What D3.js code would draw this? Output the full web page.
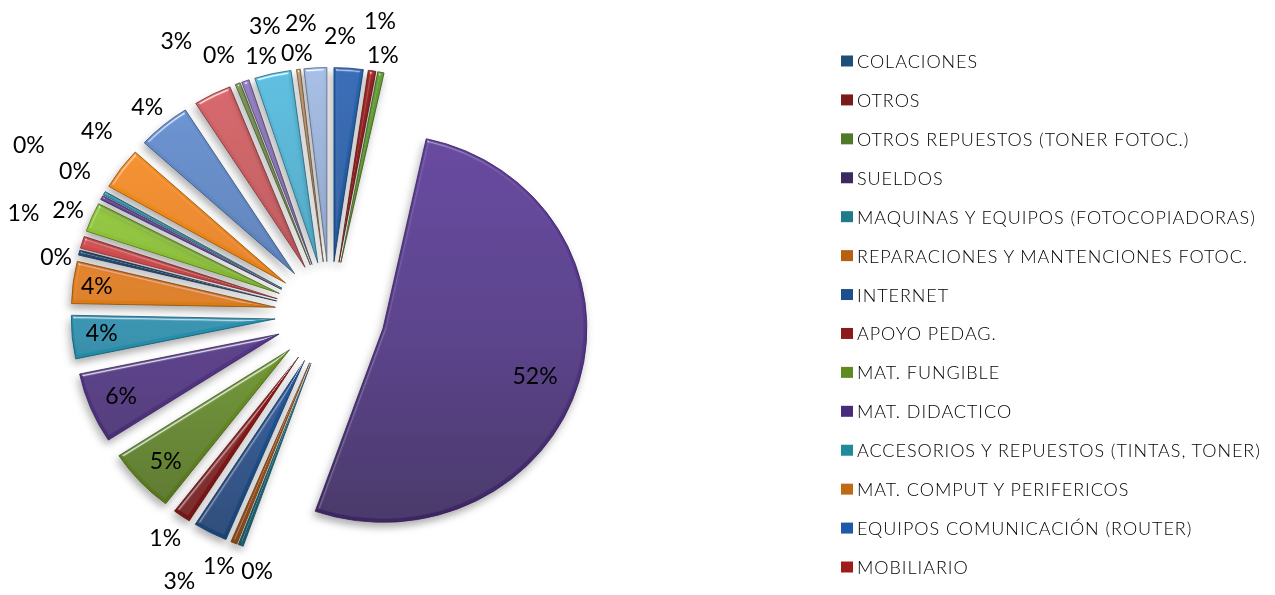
<!DOCTYPE html>
<html lang="es">
<head>
<meta charset="UTF-8">
<title>Gastos</title>
<script src="https://d3js.org/d3.v7.min.js"></script>
<style>
  html, body { margin: 0; padding: 0; background: #fff; }
  svg { display: block; filter: blur(0.35px); }
  text { fill: #000; }
  .pct { font-family: Lato, sans-serif; font-size: 23px; text-anchor: middle; dominant-baseline: central; }
  .leg { font-family: Lato, sans-serif; font-size: 18px; font-weight: 300; letter-spacing: 0.95px; dominant-baseline: central; }
</style>
</head>
<body>
<svg id="canvas" width="1275" height="595"></svg>
<script>
// only the first 14 categories made it into the legend of the original
const categories = ["COLACIONES", "OTROS", "OTROS REPUESTOS (TONER FOTOC.)", "SUELDOS",
  "MAQUINAS Y EQUIPOS (FOTOCOPIADORAS)", "REPARACIONES Y MANTENCIONES FOTOC.", "INTERNET",
  "APOYO PEDAG.", "MAT. FUNGIBLE", "MAT. DIDACTICO", "ACCESORIOS Y REPUESTOS (TINTAS, TONER)",
  "MAT. COMPUT Y PERIFERICOS", "EQUIPOS COMUNICACIÓN (ROUTER)", "MOBILIARIO"];
const legendColors = ["#1f4e79", "#7a1a1a", "#4f7a2a", "#3a2a5f", "#1f7a8c", "#b85f14", "#1f4e8c",
  "#8c1a1a", "#5f8a1f", "#4a2a7a", "#1f8a9a", "#c06a14", "#1f5aa8", "#a01c1c"];

// percent of total, clockwise from 12 o'clock
const seriesValues = [2.3, 0.6, 0.5, 52.0, 0.4, 0.5, 2.7, 1.4, 5.4, 5.9, 3.6, 3.5, 0.4, 1.0, 2.45,
  0.35, 0.3, 3.5, 4.2, 3.0, 0.4, 0.6, 2.9, 0.3, 1.8];
const sliceColors = ["#2460a8", "#9c2222", "#5f9432", "#5a3a92", "#26879f", "#c0661a",
  "#2460a8", "#a01a1a", "#76a02a", "#5c3a94", "#2a9cbc", "#ea8414",
  "#2c5c90", "#d84c50", "#90c634", "#6f50a8", "#38a0bc", "#f48a18",
  "#6088c4", "#c85c60", "#84a05c", "#8c78b8", "#52b0d0", "#c09a70", "#98aed4"];

// labels were placed by hand in the original, so they get their own polar layout
const labelAngle = [2.05, 9.65, 11.5, 106.6, 195.9, 203.9, 209.5, 216.5, 228.3, 248.8, 265.5, 277.1,
  282, 288.4, 291.8, 299.5, 299.5, 308.3, 318.7, 330.7, 336.9, 345.1, 347.3, 352.8, 354.3];
const labelRadius = [279, 298, 265, 214, 266, 274, 306, 277, 220, 224, 229, 235,
  280, 323, 282, 293, 346, 297, 277, 314, 283, 268, 296, 264, 293];

const cx = 330, cy = 314, R = 196, explode = 53;
const stretchX = 1.04, stretchY = 0.99;

const svg = d3.select("#canvas");
const defs = svg.append("defs");

// bevel + drop shadow, roughly what the spreadsheet's 3D format does
const f = defs.append("filter").attr("id", "bevel")
  .attr("x", "-30%").attr("y", "-30%").attr("width", "160%").attr("height", "160%");
f.append("feGaussianBlur").attr("in", "SourceAlpha").attr("stdDeviation", 1.6).attr("result", "blur");
const spec = f.append("feSpecularLighting").attr("in", "blur").attr("surfaceScale", 4)
  .attr("specularConstant", 0.8).attr("specularExponent", 22)
  .attr("lighting-color", "#fff").attr("result", "spec");
spec.append("feDistantLight").attr("azimuth", 250).attr("elevation", 28);
f.append("feComposite").attr("in", "spec").attr("in2", "SourceAlpha").attr("operator", "in").attr("result", "specIn");
f.append("feComposite").attr("in", "SourceGraphic").attr("in2", "specIn")
  .attr("operator", "arithmetic").attr("k1", 0).attr("k2", 1).attr("k3", 0.8).attr("k4", 0).attr("result", "lit");
f.append("feGaussianBlur").attr("in", "SourceAlpha").attr("stdDeviation", 4).attr("result", "sh");
f.append("feOffset").attr("in", "sh").attr("dx", -2).attr("dy", 5).attr("result", "shOff");
f.append("feFlood").attr("flood-color", "#000").attr("flood-opacity", 0.3);
f.append("feComposite").attr("in2", "shOff").attr("operator", "in").attr("result", "shadow");
const merge = f.append("feMerge");
merge.append("feMergeNode").attr("in", "shadow");
merge.append("feMergeNode").attr("in", "lit");

const pie = d3.pie().sort(null)(seriesValues);
const arc = d3.arc().innerRadius(0).outerRadius(R);

sliceColors.forEach(function(c, i) {
  const g = defs.append("linearGradient").attr("id", "grad" + i)
    .attr("gradientUnits", "userSpaceOnUse")
    .attr("x1", 0).attr("x2", 0).attr("y1", -R - explode).attr("y2", R + explode);
  g.append("stop").attr("offset", "0%").attr("stop-color", d3.color(c).brighter(0.3));
  g.append("stop").attr("offset", "50%").attr("stop-color", d3.color(c).darker(0.2));
  g.append("stop").attr("offset", "100%").attr("stop-color", d3.color(c).darker(1.4));
});

const chart = svg.append("g")
  .attr("transform", "translate(" + cx + "," + cy + ") scale(" + stretchX + "," + stretchY + ")");

chart.selectAll("path.slice")
  .data(pie)
  .enter()
  .append("path")
  .attr("class", "slice")
  .attr("transform", function(d) {
    const p = d3.pointRadial((d.startAngle + d.endAngle) / 2, explode);
    return "translate(" + p[0] + "," + p[1] + ")";
  })
  .attr("d", arc)
  .attr("fill", function(d, i) { return "url(#grad" + i + ")"; })
  .attr("stroke", function(d, i) { return d3.color(sliceColors[i]).darker(1.6); })
  .attr("stroke-width", 0.8)
  .attr("filter", "url(#bevel)");

svg.append("g")
  .attr("transform", "translate(" + cx + "," + cy + ")")
  .selectAll("text.pct")
  .data(pie)
  .enter()
  .append("text")
  .attr("class", "pct")
  .attr("transform", function(d, i) {
    const p = d3.pointRadial(labelAngle[i] * Math.PI / 180, labelRadius[i]);
    return "translate(" + p[0] + "," + p[1] + ")";
  })
  .text(function(d) { return Math.round(d.value) + "%"; });

// legend
const rowY = d3.scalePoint().domain(categories).range([61, 567]);
const legend = svg.append("g");
legend.selectAll("rect")
  .data(categories)
  .enter()
  .append("rect")
  .attr("x", 841).attr("width", 12).attr("height", 11)
  .attr("y", function(d) { return rowY(d) - 5.5; })
  .attr("fill", function(d, i) { return legendColors[i]; });
legend.selectAll("text")
  .data(categories)
  .enter()
  .append("text")
  .attr("class", "leg")
  .attr("x", 857)
  .attr("y", function(d) { return rowY(d); })
  .text(function(d) { return d; });
</script>
</body>
</html>
